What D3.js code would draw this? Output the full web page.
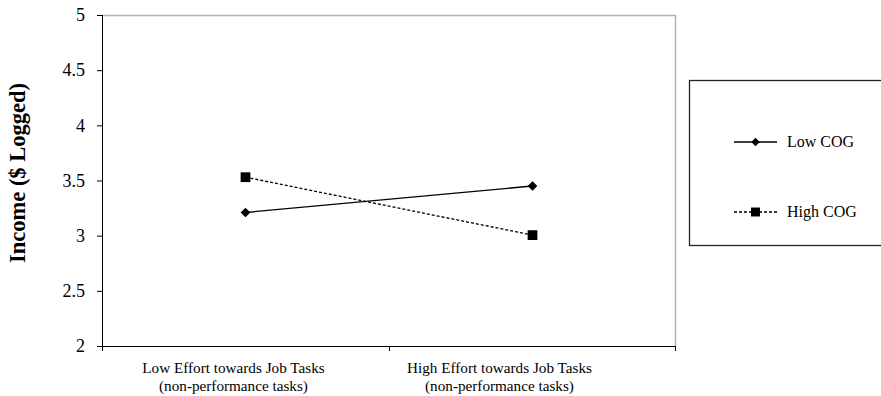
<!DOCTYPE html>
<html>
<head>
<meta charset="utf-8">
<script src="https://cdn.jsdelivr.net/npm/d3@7"></script>
<style>
  body { margin: 0; background: #fff; }
  svg { display: block; }
  svg text { font-family: "Liberation Serif", "DejaVu Serif", serif; }
</style>
</head>
<body>
<div id="chart"></div>
<script>
// categories on the x axis (two lines each)
var categories = ["Low Effort", "High Effort"];
var categoryLines = [
  ["Low Effort towards Job Tasks", "(non-performance tasks)"],
  ["High Effort towards Job Tasks", "(non-performance tasks)"]
];
var seriesNames = ["Low COG", "High COG"];
var lowCOG = [3.21, 3.45];
var highCOG = [3.53, 3.005];
var yTicks = [2, 2.5, 3, 3.5, 4, 4.5, 5];

var serif = "'Liberation Serif', 'DejaVu Serif', serif";
var width = 881, height = 396;
var margin = {top: 15, left: 102, right: 205, bottom: 50};
var plotW = width - margin.left - margin.right,
    plotH = height - margin.top - margin.bottom;

var svg = d3.select("#chart").append("svg")
  .attr("width", width)
  .attr("height", height);

var g = svg.append("g")
  .attr("transform", "translate(" + margin.left + "," + margin.top + ")");

var x = d3.scaleBand().domain(categories).range([0, plotW]);
var y = d3.scaleLinear().domain([2, 5]).range([plotH, 0]);

// frame top/right in grey
g.append("path")
  .attr("d", "M0,0.5H" + (plotW - 0.5) + "V" + plotH)
  .attr("fill", "none")
  .attr("stroke", "#b3b3b3")
  .attr("stroke-width", 1.5);

// y axis
var yAxis = g.append("g")
  .call(d3.axisLeft(y).tickValues(yTicks).tickSize(5).tickPadding(12).tickFormat(d3.format("")))
  .attr("font-family", serif)
  .attr("font-size", 18);
yAxis.select(".domain").attr("d", "M0.5,0V" + plotH).attr("stroke", "#000");
yAxis.selectAll("text").attr("fill", "#000");

// x axis, ticks at band edges
var xAxis = g.append("g").attr("transform", "translate(0," + plotH + ")");
xAxis.append("line")
  .attr("x1", 0).attr("x2", plotW)
  .attr("y1", 0.5).attr("y2", 0.5)
  .attr("stroke", "#000");
var edges = [0].concat(categories.map(function(c) { return x(c) + x.bandwidth(); }));
xAxis.selectAll(".edge").data(edges).enter().append("line")
  .attr("class", "edge")
  .attr("x1", function(d) { return Math.min(d, plotW - 1) + 0.5; })
  .attr("x2", function(d) { return Math.min(d, plotW - 1) + 0.5; })
  .attr("y1", 0).attr("y2", 5)
  .attr("stroke", "#000");

// category labels (the original sits a little left of band centre)
var labelShift = [-12, -33];
var lab = xAxis.selectAll(".cat").data(categories).enter().append("text")
  .attr("class", "cat")
  .attr("text-anchor", "middle")
  .style("font-size", "15.2px")
  .attr("fill", "#000");
lab.selectAll("tspan")
  .data(function(d, i) { return categoryLines[i].map(function(t) { return {t: t, i: i}; }); })
  .enter().append("tspan")
  .attr("x", function(d) { return x(categories[d.i]) + x.bandwidth() / 2 + labelShift[d.i]; })
  .attr("y", function(d, j) { return 27 + j * 18; })
  .text(function(d) { return d.t; });

// y axis title
svg.append("text")
  .attr("transform", "translate(25,173) rotate(-90)")
  .attr("text-anchor", "middle")
  .style("font-size", "22.5px")
  .style("font-weight", "bold")
  .text("Income ($ Logged)");

var cx = function(d, i) { return x(categories[i]) + x.bandwidth() / 2; };
var line = d3.line().x(cx).y(function(d) { return y(d); });

g.append("path").datum(lowCOG)
  .attr("d", line).attr("fill", "none")
  .attr("stroke", "#000").attr("stroke-width", 1.3);
g.append("path").datum(highCOG)
  .attr("d", line).attr("fill", "none")
  .attr("stroke", "#000").attr("stroke-width", 1.3)
  .attr("stroke-dasharray", "3,2");

var diamond = d3.symbol().type(d3.symbolDiamond2).size(60);
var square = d3.symbol().type(d3.symbolSquare).size(95);

g.selectAll(".lowPt").data(lowCOG).enter().append("path")
  .attr("class", "lowPt")
  .attr("d", diamond)
  .attr("transform", function(d, i) { return "translate(" + cx(d, i) + "," + y(d) + ")"; })
  .attr("fill", "#000");
g.selectAll(".highPt").data(highCOG).enter().append("path")
  .attr("class", "highPt")
  .attr("d", square)
  .attr("transform", function(d, i) { return "translate(" + cx(d, i) + "," + y(d) + ")"; })
  .attr("fill", "#000");

// legend
var leg = svg.append("g");
leg.append("rect")
  .attr("x", 689.5).attr("y", 80.5)
  .attr("width", 200).attr("height", 165)
  .attr("fill", "#fff").attr("stroke", "#222").attr("stroke-width", 1.3);

var legY = [142, 212];
var legItems = leg.selectAll(".item").data(seriesNames).enter().append("g")
  .attr("transform", function(d, i) { return "translate(734," + legY[i] + ")"; });
legItems.append("line")
  .attr("x1", 0).attr("x2", 43)
  .attr("stroke", "#000").attr("stroke-width", 1.3)
  .attr("stroke-dasharray", function(d, i) { return i ? "3,2" : null; });
legItems.append("path")
  .attr("d", function(d, i) { return i ? d3.symbol().type(d3.symbolSquare).size(80)() : d3.symbol().type(d3.symbolDiamond2).size(45)(); })
  .attr("transform", "translate(21.5,0)")
  .attr("fill", "#000");
legItems.append("text")
  .attr("x", 53).attr("y", 5)
  .style("font-size", "16px")
  .text(function(d) { return d; });
</script>
</body>
</html>
